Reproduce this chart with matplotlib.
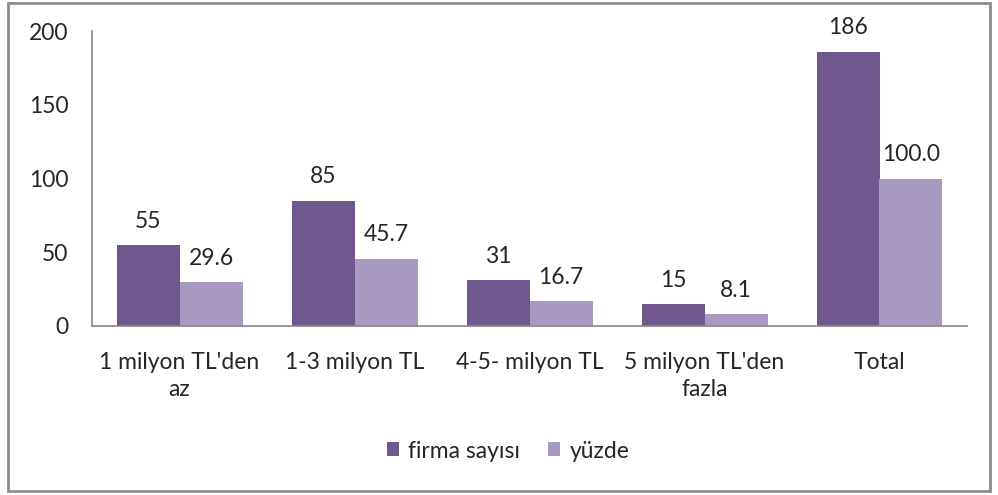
import matplotlib
matplotlib.use("Agg")
import matplotlib.pyplot as plt
import numpy as np
from matplotlib.patches import Rectangle

categories = ["1 milyon TL'den\naz", "1-3 milyon TL", "4-5- milyon TL", "5 milyon TL'den\nfazla", "Total"]
firma = [55, 85, 31, 15, 186]
yuzde = [29.6, 45.7, 16.7, 8.1, 100.0]
firma_labels = ["55", "85", "31", "15", "186"]
yuzde_labels = ["29.6", "45.7", "16.7", "8.1", "100.0"]
yticks = [0, 50, 100, 150, 200]

plt.rcParams['font.family'] = ['Lato', 'DejaVu Sans']
W, H = 998, 495
fig = plt.figure(figsize=(W/100, H/100), dpi=100)
ax = fig.add_axes([92/W, 1-326/H, (967-92)/W, (326-31)/H])

dark = '#70588F'
light = '#A899C0'
txt = '#262626'
fs = 16.5
x = np.arange(len(categories))
bw = 0.36
ax.bar(x - bw/2, firma, bw, color=dark, label='firma sayısı')
ax.bar(x + bw/2, yuzde, bw, color=light, label='yüzde')
for i in range(len(categories)):
    ax.text(x[i] - bw/2, firma[i] + 9, firma_labels[i], ha='center', va='bottom', fontsize=fs, color=txt)
    ax.text(x[i] + bw/2, yuzde[i] + 9, yuzde_labels[i], ha='center', va='bottom', fontsize=fs, color=txt)

ax.set_xlim(-0.5, len(categories) - 0.5)
ax.set_ylim(0, 200)
ax.set_yticks(yticks)
ax.set_xticks(x)
ax.set_xticklabels(categories, fontsize=fs, color=txt, linespacing=1.35)
ax.tick_params(axis='y', labelsize=fs, colors=txt, length=0, pad=17)
ax.tick_params(axis='x', length=0, pad=19)
for s in ['top', 'right']:
    ax.spines[s].set_visible(False)
for s in ['left', 'bottom']:
    ax.spines[s].set_color('#868686')
    ax.spines[s].set_linewidth(1.2)

fig.legend(loc='center', bbox_to_anchor=(508/W, 1-451/H), ncol=2, frameon=False,
           fontsize=fs, handlelength=0.55, handleheight=0.55, handletextpad=0.4, columnspacing=1.2,
           labelcolor=txt)

fig.patches.append(Rectangle((8/W, 4/H), (990-8)/W, (492-4)/H, transform=fig.transFigure,
                             fill=False, edgecolor='#8c8c8c', linewidth=2))
fig.savefig('out.png', dpi=100)
